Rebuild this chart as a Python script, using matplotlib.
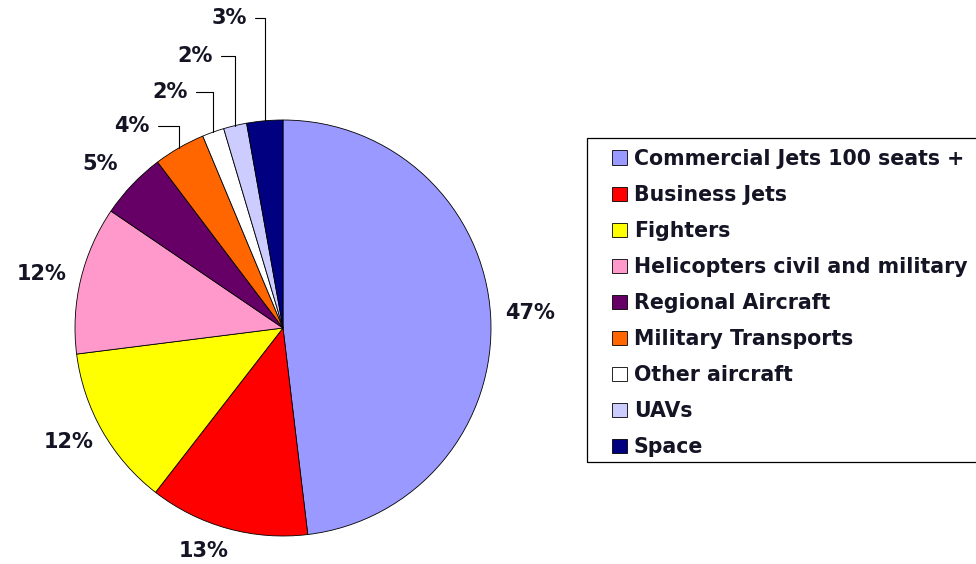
import matplotlib.pyplot as plt
from matplotlib.patches import Rectangle
import numpy as np

categories = ['Commercial Jets 100 seats +', 'Business Jets', 'Fighters',
              'Helicopters civil and military', 'Regional Aircraft',
              'Military Transports', 'Other aircraft', 'UAVs', 'Space']
# slice sizes as measured from the drawing, and the percent labels as printed
shares = [48.1, 12.4, 12.5, 11.5, 5.2, 4.0, 1.7, 1.8, 2.8]
pct_labels = ['47%', '13%', '12%', '12%', '5%', '4%', '2%', '2%', '3%']
colors = ['#9999FF', '#FF0000', '#FFFF00', '#FF99CC', '#660066',
          '#FF6600', '#FFFFFF', '#CCCCFF', '#000080']

# label anchor positions (data coords, pie radius = 1); leader-line labels anchor at right edge
label_pos = [(1.19, 0.07), (-0.38, -1.07), (-1.03, -0.55), (-1.16, 0.26),
             (-0.88, 0.79), (-0.64, 0.97), (-0.46, 1.135), (-0.34, 1.31), (-0.175, 1.49)]
leader = [False, False, False, False, False, True, True, True, True]

txt_color = '#141424'
plt.rcParams['font.family'] = ['DejaVu Sans']

fig = plt.figure(figsize=(9.76, 5.64), dpi=100)
ax = fig.add_axes([75 / 976, 28 / 564, 416 / 976, 416 / 564])

wedges, _ = ax.pie(shares, colors=colors, startangle=90, counterclock=False,
                   radius=1, wedgeprops=dict(edgecolor='black', linewidth=0.6))
ax.set_xlim(-1, 1)
ax.set_ylim(-1, 1)
ax.set_aspect('equal')
ax.axis('off')

for w, lab, (tx, ty), ld in zip(wedges, pct_labels, label_pos, leader):
    mid = np.deg2rad((w.theta1 + w.theta2) / 2)
    if ld:
        ex, ey = np.cos(mid), np.sin(mid)
        ax.annotate(lab, xy=(ex, ey), xytext=(tx, ty), ha='right', va='center',
                    fontsize=15, fontweight='bold', color=txt_color,
                    arrowprops=dict(arrowstyle='-', color='black', lw=0.8,
                                    connectionstyle='angle,angleA=0,angleB=90,rad=0',
                                    relpos=(1, 0.5), shrinkA=4, shrinkB=0))
    else:
        ax.text(tx, ty, lab, ha='center', va='center', fontsize=15,
                fontweight='bold', color=txt_color)

leg = fig.legend(wedges, categories, loc='upper left',
                 bbox_to_anchor=(612 / 976, 1 - 149 / 564), borderaxespad=0,
                 borderpad=0, frameon=False,
                 prop=dict(size=14.8, weight='bold'), labelcolor=txt_color,
                 handlelength=0.72, handleheight=0.72, handletextpad=0.35,
                 labelspacing=0.78)

fig.add_artist(Rectangle((587 / 976, 102 / 564), 400 / 976, 324 / 564,
                         transform=fig.transFigure, fill=False,
                         edgecolor='black', linewidth=0.9))

fig.savefig('out.png', dpi=100)
